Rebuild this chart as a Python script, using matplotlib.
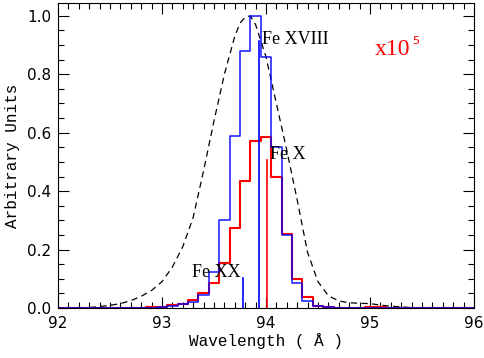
import numpy as np
import matplotlib
matplotlib.use("Agg")
import matplotlib.pyplot as plt
from matplotlib.ticker import MultipleLocator

# ---- data ----
bin_centers = [round(92.0 + 0.1 * i, 1) for i in range(41)]

blue_hist = [0, 0, 0, 0, 0, 0, 0, 0, 0, 0.001,
             0.002, 0.006, 0.013, 0.021, 0.044, 0.124, 0.30, 0.59, 0.88, 1.0,
             0.86, 0.55, 0.25, 0.087, 0.025, 0.007, 0.003, 0.001, 0, 0,
             0, 0, 0, 0, 0, 0, 0, 0, 0, 0, 0]

red_hist = [0, 0, 0, 0, 0, 0, 0, 0, 0, 0.002,
            0.004, 0.009, 0.013, 0.027, 0.05, 0.084, 0.153, 0.274, 0.435, 0.572,
            0.584, 0.449, 0.253, 0.10, 0.036, 0.008, 0.003, 0.001, 0, 0,
            0.002, 0.002, 0.001, 0, 0, 0, 0, 0, 0, 0, 0]

profile_x = [92.0, 92.2, 92.35, 92.5, 92.6, 92.7, 92.8, 92.9, 93.0, 93.1, 93.2,
             93.3, 93.4, 93.5, 93.6, 93.7, 93.75, 93.8, 93.85, 93.9, 94.0,
             94.1, 94.2, 94.3, 94.4, 94.5, 94.6, 94.7, 94.8, 94.9, 95.0,
             95.1, 95.2, 95.3, 95.4, 95.6]
profile_y = [0.0, 0.0, 0.003, 0.009, 0.015, 0.025, 0.04, 0.06, 0.09, 0.14, 0.21,
             0.31, 0.47, 0.64, 0.80, 0.93, 0.975, 0.995, 1.0, 0.97, 0.86,
             0.70, 0.54, 0.37, 0.19, 0.09, 0.042, 0.024, 0.018, 0.016, 0.015,
             0.010, 0.006, 0.004, 0.001, 0.0]

line_names = ["Fe XX", "Fe XVIII", "Fe X"]
line_waves = [93.78, 93.93, 94.01]
line_heights = [0.104, 0.914, 0.506]
line_colors = ["blue", "blue", "red"]

# ---- figure ----
fig = plt.figure(figsize=(4.84, 3.58), dpi=100)
ax = fig.add_axes([0.1198, 0.1397, 0.9793 - 0.1198, 0.9925 - 0.1397])

ax.plot(profile_x, profile_y, color="black", lw=0.9, linestyle=(0, (5, 3.5)))
ax.step(bin_centers, red_hist, where="mid", color="red", lw=1.5)
ax.step(bin_centers, blue_hist, where="mid", color="blue", lw=1.2, alpha=0.85)
for w, h, c in zip(line_waves, line_heights, line_colors):
    ax.plot([w, w], [0, h], color=c, lw=1.2)

ax.set_xlim(92, 96)
ax.set_ylim(0, 1.045)
ax.xaxis.set_major_locator(MultipleLocator(1))
ax.xaxis.set_minor_locator(MultipleLocator(0.1))
ax.yaxis.set_major_locator(MultipleLocator(0.2))
ax.yaxis.set_minor_locator(MultipleLocator(0.05))
ax.tick_params(which="both", direction="in", top=True, right=True, width=0.8)
ax.tick_params(which="major", length=8, labelsize=11)
ax.tick_params(axis="x", which="major", pad=6)
ax.tick_params(axis="y", which="major", pad=5)
ax.tick_params(which="minor", length=4)
ax.set_yticks([0, 0.2, 0.4, 0.6, 0.8, 1.0])
ax.set_yticklabels(["0.0", "0.2", "0.4", "0.6", "0.8", "1.0"])
for s in ax.spines.values():
    s.set_linewidth(0.8)

ax.set_xlabel("Wavelength ( Å )", family="Liberation Mono", fontsize=11.5, labelpad=1)
ax.set_ylabel("Arbitrary Units", family="Liberation Mono", fontsize=11.5, labelpad=5)

serif = "Liberation Serif"
ax.text(93.96, 0.92, "Fe XVIII", family=serif, fontsize=13, va="center", ha="left")
ax.text(94.04, 0.527, "Fe X", family=serif, fontsize=13, va="center", ha="left")
ax.text(93.29, 0.12, "Fe XX", family=serif, fontsize=13, va="center", ha="left")
ax.text(95.05, 0.885, "x10", family=serif, fontsize=17, color="red", va="center", ha="left")
ax.text(95.405, 0.915, "5", family="DejaVu Sans", fontsize=8, color="red", va="center", ha="left")

fig.savefig("out.png", dpi=100)
